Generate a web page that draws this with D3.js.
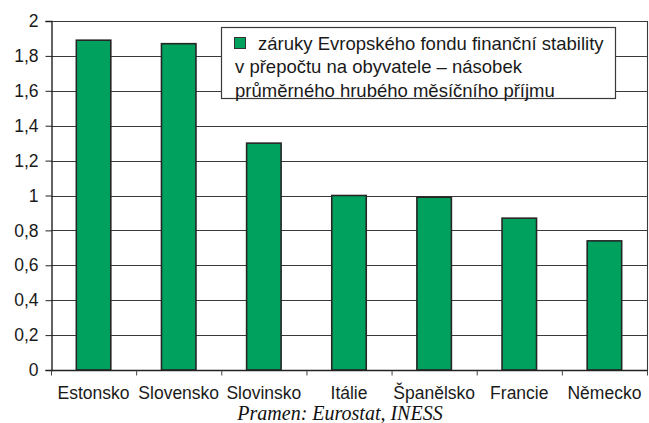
<!DOCTYPE html>
<html><head><meta charset="utf-8">
<script src="https://cdn.jsdelivr.net/npm/d3@7"></script>
<style>body{margin:0;background:#fff}svg{display:block}</style>
</head><body>
<svg id="c" width="649" height="423"></svg>
<script>
const categories = ["Estonsko","Slovensko","Slovinsko","Itálie","Španělsko","Francie","Německo"];
const values = [1.89,1.87,1.30,1.00,0.99,0.87,0.74];
const yTicks = [0,0.2,0.4,0.6,0.8,1,1.2,1.4,1.6,1.8,2];
const legendLines = ["záruky Evropského fondu finanční stability","v přepočtu na obyvatele – násobek","průměrného hrubého měsíčního příjmu"];
const sourceText = "Pramen: Eurostat, INESS";

const svg = d3.select("#c");
const m = {l:51, r:647, t:21, b:370};
const x = d3.scaleBand().domain(categories).range([m.l,m.r]).paddingInner(0.595).paddingOuter(0.2975);
const xb = d3.scaleBand().domain(categories).range([m.l,m.r]);
const y = d3.scaleLinear().domain([0,2]).range([m.b,m.t]);
const font = "'Liberation Sans', Arial, Helvetica, sans-serif";

// gridlines
svg.append("g").selectAll("line").data(yTicks.filter(d=>d>0)).join("line")
  .attr("x1",m.l).attr("x2",m.r).attr("y1",d=>Math.round(y(d))+0.5).attr("y2",d=>Math.round(y(d))+0.5)
  .attr("stroke","#3a3a3a").attr("stroke-width",1.1);
// right border
svg.append("line").attr("x1",m.r+0.5).attr("x2",m.r+0.5).attr("y1",m.t).attr("y2",m.b)
  .attr("stroke","#3a3a3a").attr("stroke-width",1.1);

// bars
svg.append("g").selectAll("rect").data(values).join("rect")
  .attr("x",(d,i)=>x(categories[i])).attr("width",x.bandwidth())
  .attr("y",d=>y(d)).attr("height",d=>y(0)-y(d))
  .attr("fill","#00a15f").attr("stroke","#262626").attr("stroke-width",1.6);

// y axis
const ya = svg.append("g").attr("transform",`translate(${m.l+0.5},0)`)
  .call(d3.axisLeft(y).tickValues(yTicks).tickSize(6).tickPadding(7)
    .tickFormat(d=>String(d).replace(".",",")));
ya.select(".domain").attr("stroke","#222").attr("stroke-width",1.4);
ya.selectAll(".tick line").attr("stroke","#222");
ya.selectAll("text").attr("font-family",font).attr("font-size",17.5).attr("fill","#1a1a1a");

// x axis
const xa = svg.append("g").attr("transform",`translate(0,${m.b+0.5})`)
  .call(d3.axisBottom(xb).tickSize(0).tickPadding(15));
xa.select(".domain").remove();
xa.append("line").attr("x1",m.l).attr("x2",m.r+1).attr("stroke","#222").attr("stroke-width",1.6);
xa.selectAll(".tick text").attr("font-family",font).attr("font-size",17.5).attr("fill","#1a1a1a").attr("dy","0.75em");
// category boundary ticks
xa.append("g").selectAll("line").data(categories.map(c=>xb(c)).concat([m.r])).join("line")
  .attr("x1",d=>d+0.5).attr("x2",d=>d+0.5).attr("y1",0).attr("y2",5).attr("stroke","#444");

// legend
const lg = svg.append("g");
lg.append("rect").attr("x",221.5).attr("y",27.5).attr("width",394).attr("height",71)
  .attr("fill","#fff").attr("stroke","#3a3a3a").attr("stroke-width",1.2);
lg.append("rect").attr("x",234.5).attr("y",37.5).attr("width",11).attr("height",11)
  .attr("fill","#00a15f").attr("stroke","#333").attr("stroke-width",1);
lg.selectAll("text").data(legendLines).join("text")
  .attr("x",(d,i)=>i===0?258:235).attr("y",(d,i)=>49.5+i*23.5)
  .attr("font-family",font).attr("font-size",18.5).attr("fill","#1a1a1a").text(d=>d);

// source
svg.append("text").attr("x",340).attr("y",420).attr("text-anchor","middle")
  .attr("font-family","'Liberation Serif','Times New Roman',serif").attr("font-style","italic")
  .attr("font-size",20).attr("fill","#111").text(sourceText);
</script>
</body></html>
